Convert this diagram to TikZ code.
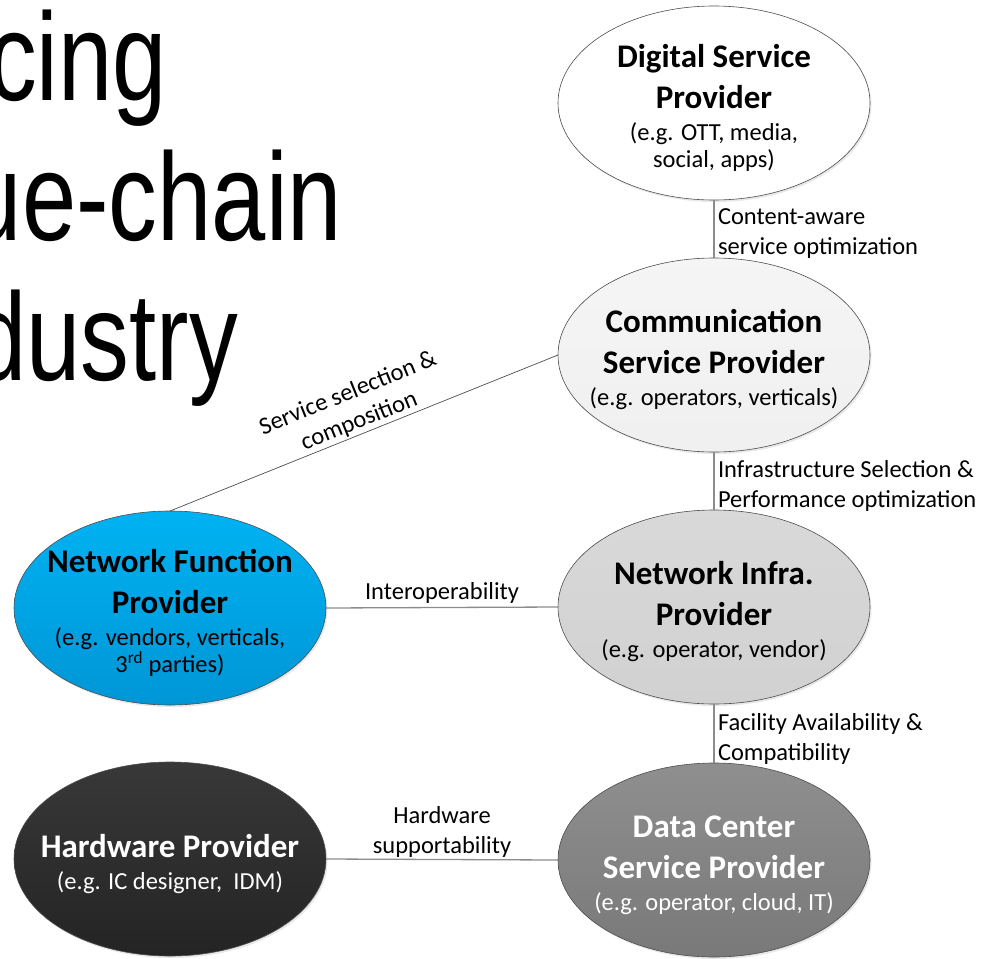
\documentclass[tikz,border=0pt]{standalone}
\usepackage{fontspec}
\setmainfont{Carlito}
\newfontfamily\titlefont[FakeStretch=0.78]{Liberation Sans}
\usepackage{xcolor}
\usepackage{tikz}
\usetikzlibrary{shapes.geometric,shadows}

\definecolor{rimgray}{HTML}{4D4D4D}
\definecolor{linkgray}{HTML}{8C8C8C}
\definecolor{nfbluetop}{HTML}{00B2F2}
\definecolor{nfbluebot}{HTML}{0096D6}

\setlength{\lineskiplimit}{-100pt}
\newcommand{\headtxt}[1]{{\fontsize{33}{39}\selectfont\bfseries #1}}
\newcommand{\headstrut}{\rule{0pt}{33pt}}

\begin{document}
\begin{tikzpicture}[y=1pt, x=1pt, yscale=-1, inner sep=0pt, outer sep=0pt,
    provider/.style={ellipse, draw=rimgray, line width=0.6pt,
      inner xsep=-30pt, inner ysep=-8pt,
      minimum width=312pt, minimum height=194pt, align=center,
      font=\fontsize{24.5}{27}\selectfont,
      drop shadow={shadow xshift=1.5pt, shadow yshift=-2pt, opacity=0.18}},
    link/.style={draw=linkgray, line width=1.3pt},
    linklabel/.style={inner sep=4pt, font=\fontsize{24.5}{30}\selectfont}]
  \useasboundingbox (0,0) rectangle (995,958);

  % title, cut at the left edge
  \begin{scope}
    \clip (0,0) rectangle (995,958);
    \node[anchor=base east, font=\titlefont\fontsize{125}{140}\selectfont] (tl1) at (167,100) {cing};
    \node[anchor=base east, font=\titlefont\fontsize{125}{140}\selectfont] (tl2) at (342,240) {ue-chain};
    \node[anchor=base east, font=\titlefont\fontsize{125}{140}\selectfont] (tl3) at (238,380) {dustry};
  \end{scope}

  % providers
  \node[provider, fill=white] (dsp) at (714,103)
    {\headstrut\headtxt{Digital Service}\\[14pt] \headtxt{Provider}\\[5pt] (e.g. OTT, media,\\ social, apps)};
  \node[provider, top color=gray!8, bottom color=gray!12] (csp) at (714,355)
    {\headstrut\headtxt{Communication}\\[14pt] \headtxt{Service Provider}\\[5pt] (e.g. operators, verticals)};
  \node[provider, top color=gray!30, bottom color=gray!36] (nip) at (714,607)
    {\headstrut\headtxt{Network Infra.}\\[14pt] \headtxt{Provider}\\[5pt] (e.g. operator, vendor)};
  \node[provider, top color=gray!88!white, bottom color=gray!95!black, text=white] (dcsp) at (714,860)
    {\headstrut\headtxt{Data Center}\\[14pt] \headtxt{Service Provider}\\[5pt] (e.g. operator, cloud, IT)};
  \node[provider, top color=nfbluetop, bottom color=nfbluebot] (nfp) at (170,608)
    {\headstrut\headtxt{Network Function}\\[14pt] \headtxt{Provider}\\[5pt] (e.g. vendors, verticals,\\ 3\textsuperscript{rd} parties)};
  \node[provider, top color=black!78, bottom color=black!86, text=white] (hwp) at (170,859)
    {\headstrut\headtxt{Hardware Provider}\\[5pt] (e.g. IC designer,\ \ IDM)};

  % relations
  \draw[link] (dsp.south) -- node[linklabel, midway, right, yshift=-5pt, align=left]
    {Content-aware\\ service optimization} (csp.north);
  \draw[link] (csp.south) -- node[linklabel, midway, right, yshift=-5pt, align=left]
    {Infrastructure Selection \&\\ Performance optimization} (nip.north);
  \draw[link] (nip.south) -- node[linklabel, midway, right, yshift=-5pt, align=left]
    {Facility Availability \&\\ Compatibility} (dcsp.north);
  \draw[link] (nfp.east) -- node[linklabel, midway, above] {Interoperability} (nip.west);
  \draw[link] (hwp.east) -- node[linklabel, inner sep=2pt, midway, above, align=center]
    {Hardware\\ supportability} (dcsp.west);
  \draw[draw=rimgray, line width=0.7pt] (nfp.north) -- node[linklabel, inner sep=2pt, midway, anchor=south, rotate=22, align=center]
    {Service selection \&\\ composition} (csp.west);
\end{tikzpicture}
\end{document}
